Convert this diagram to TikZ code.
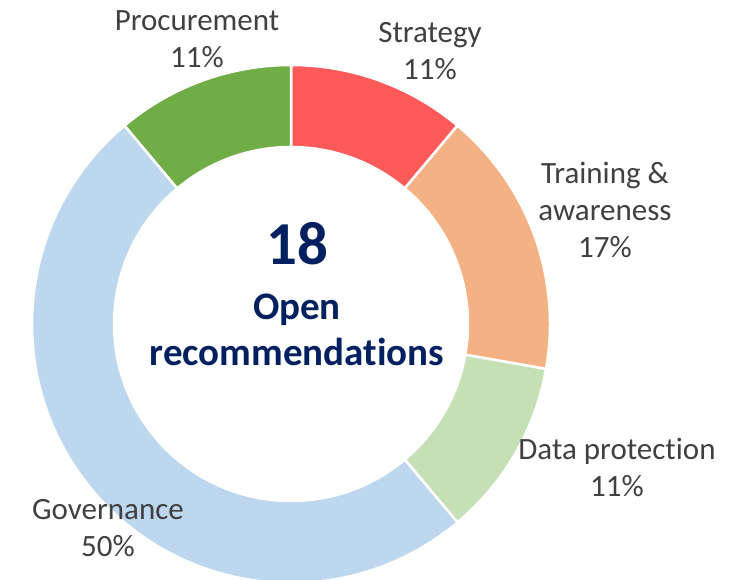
\documentclass[tikz,border=0pt]{standalone}
\usepackage{fontspec}
\setmainfont{Carlito}[Ligatures=NoCommon]
\usetikzlibrary{calc}
\definecolor{cstrat}{HTML}{FF5A5A}
\definecolor{ctrain}{HTML}{F4B183}
\definecolor{cdata}{HTML}{C5E0B4}
\definecolor{cgov}{HTML}{BDD7EE}
\definecolor{cproc}{HTML}{70AD47}
\definecolor{txtgrey}{HTML}{404040}
\definecolor{navy}{HTML}{002060}
\tikzset{
  lbl/.style={font=\fontsize{31}{37}\selectfont, text=txtgrey, align=center, anchor=base, inner sep=0pt},
  big/.style={font=\fontsize{39}{45}\selectfont\bfseries, text=navy, anchor=base, inner sep=0pt},
  slice/.style={draw=white, line width=2.5pt}
}
\begin{document}
\begin{tikzpicture}[x=1pt, y=1pt, line join=round]
	\def\ro{259}  % outer radius
	\def\ri{177}  % inner radius
	\useasboundingbox (0,0) rectangle (750,580);
	\coordinate (c) at (291,256);
	\foreach \a/\b/\col in {90/50/cstrat, 50/-10/ctrain, -10/-50/cdata, -50/-230/cgov, 130/90/cproc}
		\draw[slice, fill=\col] ($(c)+(\a:\ro)$) arc[start angle=\a, end angle=\b, radius=\ro]
			-- ($(c)+(\b:\ri)$) arc[start angle=\b, end angle=\a, radius=\ri] -- cycle;
	% centre
	\node[big, font=\fontsize{61}{70}\selectfont\bfseries] (num) at (297,315) {18};
	\node[big] (open) at (297,260) {Open};
	\node[big] (rec) at (297,214) {recommendations};
	% labels (base = last line)
	\node[lbl] (proc) at (197,512) {Procurement\\11\%};
	\node[lbl] (strat) at (430,500) {Strategy\\11\%};
	\node[lbl] (train) at (605,322) {Training \&\\awareness\\17\%};
	\node[lbl] (data) at (617,83) {Data protection\\11\%};
	\node[lbl] (gov) at (108,23) {Governance\\50\%};
\end{tikzpicture}
\end{document}
